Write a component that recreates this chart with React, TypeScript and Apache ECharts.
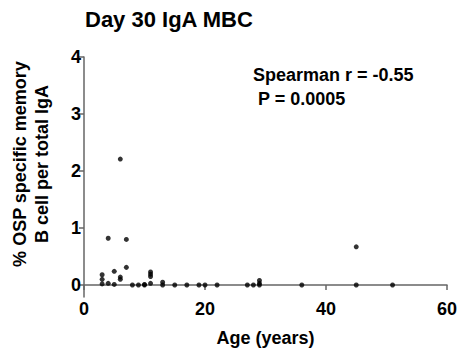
import React, { useEffect, useRef } from "react";
import * as echarts from "echarts";

const ages = [6, 4, 7, 7, 5, 3, 3, 3, 4, 5, 6, 6, 8, 9, 10, 10, 11, 11, 11, 11, 13, 13, 15, 17, 19, 20, 22, 27, 28, 29, 29, 29, 36, 45, 45, 51];
const values = [2.21, 0.82, 0.8, 0.31, 0.24, 0.18, 0.1, 0.02, 0.03, 0.01, 0.14, 0.1, 0, 0, 0.01, 0, 0.23, 0.19, 0.15, 0.03, 0.05, 0, 0, 0, 0, 0, 0, 0, 0, 0, 0.03, 0.08, 0, 0.67, 0, 0];
const yTicks = [0, 1, 2, 3, 4];
const xTicks = [0, 20, 40, 60];

const FONT = "Liberation Sans, Arial, sans-serif";

export default function App() {
  const ref = useRef<HTMLDivElement>(null);
  useEffect(() => {
    if (!ref.current) return;
    const chart = echarts.init(ref.current, null, { renderer: "svg" });
    chart.setOption({
      animation: false,
      backgroundColor: "#ffffff",
      grid: { left: 84, right: 9, top: 57, bottom: 53 },
      xAxis: {
        type: "value",
        min: 0,
        max: 60,
        interval: 20,
        splitLine: { show: false },
        axisLine: { lineStyle: { color: "#666", width: 1.5 } },
        axisTick: { length: 5, lineStyle: { color: "#666", width: 1.5 }, customValues: xTicks },
        axisLabel: { margin: 3, color: "#000", fontWeight: "bold", fontSize: 18, fontFamily: FONT, customValues: xTicks },
        name: "Age (years)",
        nameLocation: "middle",
        nameGap: 32,
        nameTextStyle: { color: "#000", fontWeight: "bold", fontSize: 18, fontFamily: FONT },
      },
      yAxis: {
        type: "value",
        min: -0.21,
        max: 4,
        splitLine: { show: false },
        axisLine: { show: true, lineStyle: { color: "#666", width: 1.5 } },
        axisTick: { show: true, length: 5, lineStyle: { color: "#666", width: 1.5 }, customValues: yTicks },
        axisLabel: { margin: 3, color: "#000", fontWeight: "bold", fontSize: 18, fontFamily: FONT, customValues: yTicks },
      },
      graphic: [
        {
          type: "text",
          left: 85,
          top: 8,
          style: { text: "Day 30 IgA MBC", fill: "#000", font: `bold 22px ${FONT}` },
        },
        {
          type: "text",
          x: 31,
          y: 164,
          rotation: Math.PI / 2,
          style: {
            text: "% OSP specific memory\nB cell per total IgA",
            fill: "#000",
            font: `bold 18px ${FONT}`,
            align: "center",
            verticalAlign: "middle",
            lineHeight: 22,
          },
        },
        {
          type: "text",
          left: 253,
          top: 63,
          style: {
            text: "Spearman r = -0.55\n P = 0.0005",
            fill: "#000",
            font: `bold 18px ${FONT}`,
            lineHeight: 24,
          },
        },
      ],
      series: [
        {
          type: "scatter",
          data: ages.map((a, i) => [a, values[i]]),
          symbol: "circle",
          symbolSize: 5,
          itemStyle: { color: "#000" },
        },
      ],
    });
    return () => chart.dispose();
  }, []);
  return <div ref={ref} style={{ width: 460, height: 352, position: "absolute", left: 0, top: 0 }} />;
}
